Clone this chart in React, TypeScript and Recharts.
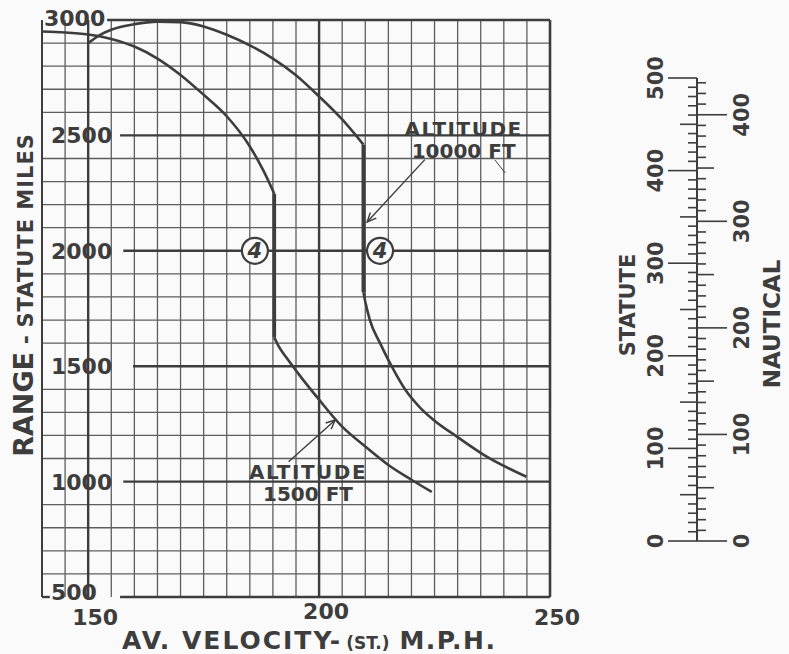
import React from 'react';
import {
  ComposedChart,
  LineChart,
  Line,
  XAxis,
  YAxis,
  CartesianGrid,
  ReferenceLine,
  ReferenceDot,
} from 'recharts';

const FONT = '"DejaVu Sans", Verdana, sans-serif';
const INK = '#3d3d3d';
const GRID = '#5e5e5e';
const PAPER = '#fafafa';

function range(from: number, to: number, step: number) {
  const out: number[] = [];
  for (let v = from; v <= to; v += step) out.push(v);
  return out;
}

// graph paper: a line every 5 mph and every 100 miles
const velocityGrid = range(140, 250, 5);
const rangeMinorGrid = range(500, 3000, 100).filter((v) => v % 500 !== 0);
const velocityLabels = [150, 200, 250];
const rangeLabels = [500, 1000, 1500, 2000, 2500, 3000];

// heavy lines; horizontal ones stop short of the hand-lettered figures
const majorVelocityLines = [150, 200];
const majorRangeLines = [
  { r: 3000, from: 154.1 },
  { r: 2500, from: 156.9 },
  { r: 2000, from: 157.6 },
  { r: 1500, from: 159.7 },
  { r: 1000, from: 157.6 },
  { r: 500, from: 156.9 },
];

// altitude 1500 ft  (v = av. velocity mph, r = range statute miles)
const alt1500Upper = [
  { v: 140, r: 2950 }, { v: 145, r: 2946 }, { v: 150, r: 2937 }, { v: 155, r: 2918 },
  { v: 160, r: 2885 }, { v: 165, r: 2833 }, { v: 170, r: 2762 }, { v: 175, r: 2676 },
  { v: 180, r: 2583 }, { v: 185, r: 2452 }, { v: 188, r: 2345 }, { v: 190.3, r: 2247 },
];
const alt1500Drop = [{ v: 190.3, r: 2247 }, { v: 190.3, r: 1625 }];
const alt1500Lower = [
  { v: 190.3, r: 1625 }, { v: 191.2, r: 1588 }, { v: 193, r: 1535 }, { v: 195.5, r: 1468 },
  { v: 200, r: 1355 }, { v: 205, r: 1238 }, { v: 210, r: 1152 }, { v: 215, r: 1072 },
  { v: 220, r: 1008 }, { v: 224.4, r: 955 },
];

// altitude 10000 ft
const alt10000Upper = [
  { v: 150, r: 2900 }, { v: 152.5, r: 2935 }, { v: 155, r: 2958 }, { v: 160, r: 2982 },
  { v: 165, r: 2993 }, { v: 170, r: 2991 }, { v: 175, r: 2972 }, { v: 180, r: 2936 },
  { v: 185, r: 2890 }, { v: 190, r: 2833 }, { v: 195, r: 2761 }, { v: 200, r: 2669 },
  { v: 205, r: 2569 }, { v: 209.6, r: 2460 },
];
const alt10000Drop = [{ v: 209.6, r: 2460 }, { v: 209.6, r: 1820 }];
const alt10000Lower = [
  { v: 209.6, r: 1820 }, { v: 210.1, r: 1770 }, { v: 211, r: 1700 }, { v: 213.2, r: 1600 },
  { v: 215.7, r: 1500 }, { v: 218.6, r: 1400 }, { v: 221.8, r: 1322 }, { v: 224.8, r: 1267 },
  { v: 229.9, r: 1194 }, { v: 236.3, r: 1108 }, { v: 244.9, r: 1021 },
];

// notes on the graph
const engineMarks = [{ v: 186.1, r: 2000 }, { v: 213.2, r: 2000 }];
const altitudeNotes = [
  { v: 231.3, r: 2528, lines: ['ALTITUDE', '10000 FT'] },
  { v: 197.6, r: 1040, lines: ['ALTITUDE', '1500 FT'] },
];
const arrowNotes = [
  { from: { v: 222.9, r: 2395 }, to: { v: 210.4, r: 2125 } },
  { from: { v: 193.4, r: 1086 }, to: { v: 203.5, r: 1267 } },
];

// conversion scale
const statuteTicks = range(0, 500, 10);
const nauticalTicks = range(0, 430, 10);
const NAUTICAL_PER_STATUTE = 0.868976;

const txt = { fontFamily: FONT, fontWeight: 'bold' as const, fill: INK };

const VelocityTick = ({ x, y, payload }: any) =>
  velocityLabels.includes(payload.value) ? (
    <text x={x + 7} y={y + (payload.value === 200 ? 22 : 28)} textAnchor="middle" fontSize={22} {...txt}>
      {payload.value}
    </text>
  ) : (
    <g />
  );

// hand lettering sits a little off the line at the corners
const rangeLabelNudge: Record<number, [number, number]> = { 3000: [2, 6], 500: [9, 3] };

const RangeTick = ({ x, y, payload }: any) => {
  const [dx, dy] = rangeLabelNudge[payload.value] ?? [9, 8];
  return (
    <text x={x + dx} y={y + dy} textAnchor="start" fontSize={22} {...txt}>
      {payload.value}
    </text>
  );
};

const RangeTitle = () => {
  const cx = 33;
  const cy = 295;
  return (
    <text x={cx} y={cy} transform={`rotate(-90 ${cx} ${cy})`} textAnchor="middle" {...txt}>
      <tspan fontSize={27}>RANGE</tspan>
      <tspan fontSize={22}> - </tspan>
      <tspan fontSize={21} letterSpacing={1}>STATUTE MILES</tspan>
    </text>
  );
};

const VelocityTitle = () => (
  <text x={122} y={649} textAnchor="start" {...txt}>
    <tspan fontSize={25} letterSpacing={2}>AV. VELOCITY-</tspan>
    <tspan fontSize={17} dx={4}>(ST.)</tspan>
    <tspan fontSize={25} dx={10} letterSpacing={1.5}>M.P.H.</tspan>
  </text>
);

const CircledFour = ({ cx, cy }: any) => (
  <g>
    <circle cx={cx} cy={cy} r={13} fill={PAPER} stroke={INK} strokeWidth={2.2} />
    <text x={cx} y={cy + 7.5} textAnchor="middle" fontSize={21} fontStyle="italic" {...txt}>
      4
    </text>
  </g>
);

const NoteText = ({ cx, cy, lines }: any) => (
  <g>
    <text x={cx} y={cy + 7} textAnchor="middle" fontSize={20} letterSpacing={1.5} {...txt}>
      {lines[0]}
    </text>
    <text x={cx} y={cy + 29} textAnchor="middle" fontSize={20} {...txt}>
      {lines[1]}
    </text>
  </g>
);

const Arrow = ({ x1, y1, x2, y2 }: any) => {
  const a = Math.atan2(y2 - y1, x2 - x1);
  const len = 10;
  const spread = 0.42;
  const p1 = [x2 - len * Math.cos(a - spread), y2 - len * Math.sin(a - spread)];
  const p2 = [x2 - len * Math.cos(a + spread), y2 - len * Math.sin(a + spread)];
  return (
    <g stroke={INK} strokeWidth={1.4} fill="none">
      <line x1={x1} y1={y1} x2={x2} y2={y2} />
      <polyline points={`${p1[0]},${p1[1]} ${x2},${y2} ${p2[0]},${p2[1]}`} />
    </g>
  );
};

const StatuteTick = ({ x, y, payload }: any) => {
  const v = payload.value;
  const len = v % 100 === 0 ? 29 : v % 50 === 0 ? 17 : 9;
  return (
    <g>
      <line x1={x - len} x2={x} y1={y} y2={y} stroke={INK} strokeWidth={1.6} />
      {v % 100 === 0 && (
        <text x={x - 34} y={y} transform={`rotate(-90 ${x - 34} ${y})`} textAnchor="middle" fontSize={21} {...txt}>
          {v}
        </text>
      )}
    </g>
  );
};

const NauticalTick = ({ x, y, payload }: any) => {
  const v = payload.value;
  const len = v % 100 === 0 ? 30 : v % 50 === 0 ? 17 : 9;
  const x0 = x - 1;
  return (
    <g>
      <line x1={x0} x2={x0 + len} y1={y} y2={y} stroke={INK} strokeWidth={1.6} />
      {v % 100 === 0 && (
        <text x={x0 + 52} y={y} transform={`rotate(-90 ${x0 + 52} ${y})`} textAnchor="middle" fontSize={21} {...txt}>
          {v}
        </text>
      )}
    </g>
  );
};

const StatuteTitle = () => {
  const cx = 34;
  const cy = 305;
  return (
    <text x={cx} y={cy} transform={`rotate(-90 ${cx} ${cy})`} textAnchor="middle" fontSize={21} {...txt}>
      STATUTE
    </text>
  );
};

const NauticalTitle = () => {
  const cx = 179;
  const cy = 324;
  return (
    <text x={cx} y={cy} transform={`rotate(-90 ${cx} ${cy})`} textAnchor="middle" fontSize={23} {...txt}>
      NAUTICAL
    </text>
  );
};

export default function App() {
  const curve = { stroke: INK, dot: false, isAnimationActive: false, yAxisId: 'r', dataKey: 'r' } as const;
  return (
    <div style={{ position: 'absolute', left: 0, top: 0, width: 789, height: 654, background: PAPER, overflow: 'hidden' }}>
      <div style={{ position: 'absolute', left: 0, top: 0 }}>
        <ComposedChart width={600} height={654} margin={{ top: 20, right: 50, bottom: 56, left: 41 }}>
          <XAxis
            dataKey="v"
            type="number"
            domain={[140, 250]}
            ticks={velocityGrid}
            interval={0}
            height={1}
            tickLine={false}
            axisLine={false}
            tickSize={0}
            tickMargin={0}
            tick={<VelocityTick />}
            label={<VelocityTitle />}
          />
          <YAxis
            yAxisId="r"
            type="number"
            domain={[500, 3000]}
            ticks={rangeLabels}
            interval={0}
            width={1}
            tickLine={false}
            axisLine={false}
            tickSize={0}
            tickMargin={0}
            tick={<RangeTick />}
            label={<RangeTitle />}
          />
          <CartesianGrid yAxisId="r" horizontal={false} stroke={GRID} strokeWidth={1.3} />
          {rangeMinorGrid.map((r) => (
            <ReferenceLine key={`g${r}`} yAxisId="r" y={r} stroke={GRID} strokeWidth={1.3} />
          ))}
          <ReferenceLine yAxisId="r" x={140} stroke={INK} strokeWidth={2} />
          <ReferenceLine yAxisId="r" x={250} stroke={INK} strokeWidth={2.6} />
          {majorVelocityLines.map((v) => (
            <ReferenceLine key={`mv${v}`} yAxisId="r" x={v} stroke={INK} strokeWidth={2.4} />
          ))}
          {majorRangeLines.map((m) => (
            <ReferenceLine
              key={`mr${m.r}`}
              yAxisId="r"
              segment={[{ x: m.from, y: m.r }, { x: 250, y: m.r }]}
              stroke={INK}
              strokeWidth={2.4}
            />
          ))}
          <ReferenceLine yAxisId="r" segment={[{ x: 140, y: 500 }, { x: 141.7, y: 500 }]} stroke={INK} strokeWidth={2.4} />

          <Line {...curve} data={alt1500Upper} type="monotoneX" strokeWidth={2.6} />
          <Line {...curve} data={alt1500Drop} type="linear" strokeWidth={3.6} />
          <Line {...curve} data={alt1500Lower} type="monotoneX" strokeWidth={2.6} />
          <Line {...curve} data={alt10000Upper} type="monotoneX" strokeWidth={2.6} />
          <Line {...curve} data={alt10000Drop} type="linear" strokeWidth={3.8} />
          <Line {...curve} data={alt10000Lower} type="monotoneX" strokeWidth={2.6} />

          {arrowNotes.map((a, i) => (
            <ReferenceLine
              key={`ar${i}`}
              yAxisId="r"
              segment={[{ x: a.from.v, y: a.from.r }, { x: a.to.v, y: a.to.r }]}
              shape={(p: any) => <Arrow {...p} />}
            />
          ))}
          <ReferenceLine yAxisId="r" segment={[{ x: 238.1, y: 2393 }, { x: 240.3, y: 2337 }]} stroke={INK} strokeWidth={1} />
          {engineMarks.map((m, i) => (
            <ReferenceDot key={`e${i}`} yAxisId="r" x={m.v} y={m.r} r={13} shape={(p: any) => <CircledFour cx={p.cx} cy={p.cy} />} />
          ))}
          {altitudeNotes.map((n, i) => (
            <ReferenceDot key={`n${i}`} yAxisId="r" x={n.v} y={n.r} r={1} shape={(p: any) => <NoteText cx={p.cx} cy={p.cy} lines={n.lines} />} />
          ))}
        </ComposedChart>
      </div>
      <div style={{ position: 'absolute', left: 601, top: 0 }}>
        <LineChart width={189} height={654} margin={{ top: 78, right: 0, bottom: 113, left: 0 }} data={[]}>
          <XAxis hide type="number" domain={[0, 1]} />
          <YAxis
            yAxisId="st"
            orientation="left"
            type="number"
            domain={[0, 500]}
            allowDataOverflow
            ticks={statuteTicks}
            interval={0}
            width={96}
            tickLine={false}
            tickSize={0}
            tickMargin={0}
            axisLine={{ stroke: INK, strokeWidth: 2 }}
            tick={<StatuteTick />}
            label={<StatuteTitle />}
          />
          <YAxis
            yAxisId="nm"
            orientation="right"
            type="number"
            domain={[0, 500 * NAUTICAL_PER_STATUTE]}
            allowDataOverflow
            ticks={nauticalTicks}
            interval={0}
            width={92}
            tickLine={false}
            tickSize={0}
            tickMargin={0}
            axisLine={false}
            tick={<NauticalTick />}
            label={<NauticalTitle />}
          />
        </LineChart>
      </div>
    </div>
  );
}
